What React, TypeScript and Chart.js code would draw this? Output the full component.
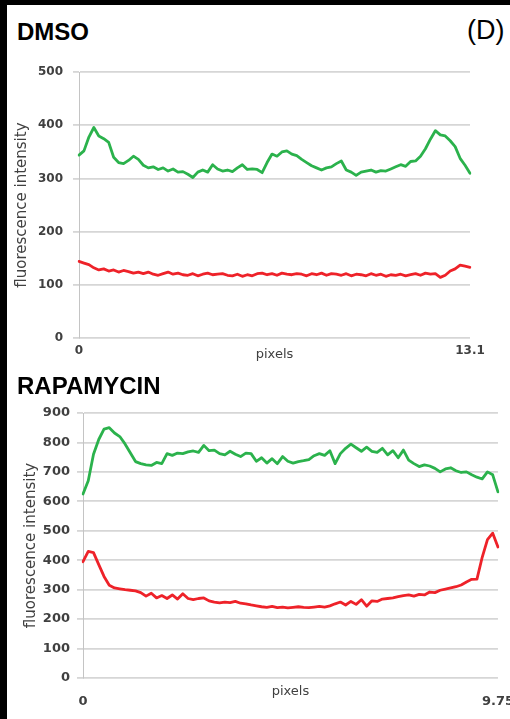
import React, { useEffect, useRef } from "react";
import { Chart, registerables } from "chart.js";

Chart.register(...registerables);

// ---- DATA ----
const dmsoXTicks = ["0", "13.1"];
const rapaXTicks = ["0", "9.75"];
const dmsoYMax = 500;
const dmsoYStep = 100;
const rapaYMax = 900;
const rapaYStep = 100;

const dmsoGreen = [
  344, 352, 378, 396, 380, 375, 368, 340, 330, 328,
  334, 342, 336, 325, 320, 322, 317, 320, 314, 318,
  312, 313, 308, 302, 312, 316, 312, 326, 318, 314,
  316, 313, 320, 326, 317, 318, 317, 311, 330, 346,
  342, 350, 352, 346, 343, 336, 330, 324, 320, 316,
  320, 322, 328, 333, 316, 312, 306, 312, 314, 316,
  312, 315, 314, 318, 322, 326, 323, 332, 333, 342,
  356, 374, 390, 382, 380, 371, 360, 338, 325, 310,
];

const dmsoRed = [
  144, 141, 138, 132, 128, 130, 126, 128, 124, 127,
  125, 122, 124, 121, 124, 120, 118, 121, 124, 120,
  122, 119, 118, 121, 117, 120, 122, 119, 120, 121,
  118, 117, 120, 116, 119, 117, 121, 122, 119, 121,
  118, 122, 120, 119, 121, 120, 117, 121, 119, 122,
  118, 121, 120, 118, 121, 117, 120, 119, 117, 121,
  118, 120, 116, 119, 118, 120, 117, 119, 121, 118,
  122, 120, 121, 114, 118, 126, 130, 137, 135, 133,
];

const rapaGreen = [
  625, 670, 760, 810, 845, 850, 832, 820, 795, 765,
  735, 728, 724, 722, 732, 728, 762, 756, 764, 762,
  768, 771, 766, 790, 772, 774, 762, 758, 770, 760,
  752, 764, 762, 736, 748, 730, 745, 728, 752, 736,
  730, 735, 738, 742, 755, 762, 756, 772, 728, 762,
  780, 794, 782, 770, 784, 770, 766, 780, 758, 772,
  748, 774, 740, 728, 718, 724, 720, 712, 700, 710,
  714, 704, 698, 700, 690, 682, 676, 700, 690, 632,
];

const rapaRed = [
  395, 430, 426, 385, 345, 315, 306, 303, 300, 298,
  296, 290, 278, 288, 272, 280, 270, 282, 268, 286,
  270, 266, 270, 272, 262, 258, 255, 258, 256, 260,
  254, 252, 248, 245, 242, 240, 243, 239, 241, 238,
  240, 242, 240, 239, 241, 243, 241, 245, 252, 258,
  248, 260, 250, 266, 244, 262, 260, 268, 270, 272,
  276, 280, 282, 278, 284, 282, 292, 290, 298, 302,
  306, 310, 316, 326, 335, 336, 410, 470, 492, 445,
];

const GREEN = "#2bb24c";
const RED = "#ee2229";
const GRID = "#d6d6d6";
const TEXT = "#404040";

type Area = { left: number; right: number; top: number; bottom: number };
type PanelProps = {
  top: number;
  width: number;
  height: number;
  green: number[];
  red: number[];
  xTicks: string[];
  yMax: number;
  yStep: number;
  area: Area;
  tickSize: number;
  yTickPad: number;
  xTickPad: number;
  xTitlePad: number;
  yTitlePad: number;
};

function Panel(p: PanelProps) {
  const ref = useRef<HTMLCanvasElement | null>(null);
  useEffect(() => {
    if (!ref.current) return;
    const n = p.green.length;
    const labels = p.green.map((_, i) =>
      i === 0 ? p.xTicks[0] : i === n - 1 ? p.xTicks[1] : ""
    );
    const tickFont = { family: "DejaVu Sans", weight: "bold" as const, size: p.tickSize };
    const chart = new Chart(ref.current, {
      type: "line",
      data: {
        labels,
        datasets: [
          {
            data: p.green,
            borderColor: GREEN,
            borderWidth: 2.8,
            pointRadius: 0,
            tension: 0,
            borderJoinStyle: "round",
            borderCapStyle: "round",
          },
          {
            data: p.red,
            borderColor: RED,
            borderWidth: 2.8,
            pointRadius: 0,
            tension: 0,
            borderJoinStyle: "round",
            borderCapStyle: "round",
          },
        ],
      },
      options: {
        animation: false,
        responsive: false,
        maintainAspectRatio: false,
        layout: {
          padding: { left: 0, right: p.width - p.area.right, top: p.area.top, bottom: 0 },
        },
        plugins: { legend: { display: false }, tooltip: { enabled: false } },
        scales: {
          x: {
            type: "category",
            grid: { display: false, drawTicks: false },
            border: { display: false },
            ticks: {
              autoSkip: false,
              maxRotation: 0,
              minRotation: 0,
              padding: p.xTickPad,
              font: tickFont,
              color: TEXT,
            },
            title: {
              display: true,
              text: "pixels",
              font: { family: "DejaVu Sans", size: 13 },
              color: TEXT,
              padding: { top: 0, bottom: p.xTitlePad },
            },
            afterFit: (s: any) => {
              s.height = p.height - p.area.bottom;
            },
          },
          y: {
            min: 0,
            max: p.yMax,
            ticks: { stepSize: p.yStep, padding: p.yTickPad, font: tickFont, color: TEXT },
            grid: { color: GRID, lineWidth: 1.8, tickLength: 6, drawTicks: true },
            border: { display: true, color: "#c4c4c4", width: 1 },
            title: {
              display: true,
              text: "fluorescence intensity",
              font: { family: "DejaVu Sans", size: 15 },
              color: TEXT,
              padding: { top: p.yTitlePad, bottom: 0 },
            },
            afterFit: (s: any) => {
              s.width = p.area.left;
            },
          },
        },
      },
    });
    return () => chart.destroy();
  }, []);
  return (
    <canvas
      ref={ref}
      width={p.width}
      height={p.height}
      style={{ position: "absolute", left: 0, top: p.top, width: p.width, height: p.height, display: "block" }}
    />
  );
}

export default function App() {
  const heading: React.CSSProperties = {
    position: "absolute",
    fontFamily: "'Liberation Sans', Arial, sans-serif",
    fontWeight: "bold",
    fontSize: 24,
    lineHeight: 1,
    color: "#000",
    whiteSpace: "nowrap",
  };
  return (
    <div
      style={{
        position: "absolute",
        left: 0,
        top: 0,
        width: 510,
        height: 719,
        background: "#fff",
        overflow: "hidden",
      }}
    >
      <Panel
        top={55}
        width={510}
        height={310}
        green={dmsoGreen}
        red={dmsoRed}
        xTicks={dmsoXTicks}
        yMax={dmsoYMax}
        yStep={dmsoYStep}
        area={{ left: 79, right: 470, top: 16, bottom: 283 }}
        tickSize={12}
        yTickPad={10}
        xTickPad={6}
        xTitlePad={3}
        yTitlePad={13}
      />
      <Panel
        top={395}
        width={530}
        height={324}
        green={rapaGreen}
        red={rapaRed}
        xTicks={rapaXTicks}
        yMax={rapaYMax}
        yStep={rapaYStep}
        area={{ left: 83, right: 498, top: 18, bottom: 283 }}
        tickSize={13}
        yTickPad={7}
        xTickPad={16}
        xTitlePad={20}
        yTitlePad={22}
      />
      <div style={{ ...heading, left: 17, top: 20 }}>DMSO</div>
      <div style={{ ...heading, left: 17, top: 374 }}>RAPAMYCIN</div>
      <div style={{ ...heading, fontWeight: "normal", fontSize: 27, left: 467, top: 17 }}>(D)</div>
      <div style={{ position: "absolute", left: 0, top: 0, width: 510, height: 5, background: "#000" }} />
      <div style={{ position: "absolute", left: 0, top: 0, width: 7, height: 719, background: "#000" }} />
    </div>
  );
}
